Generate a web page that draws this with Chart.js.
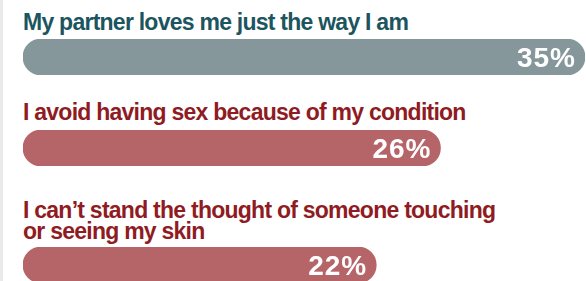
<!DOCTYPE html>
<html>
<head>
<meta charset="utf-8">
<script src="https://cdn.jsdelivr.net/npm/chart.js@4.4.1/dist/chart.umd.min.js"></script>
<style>
  html, body { margin: 0; padding: 0; background: #fff; }
  body { width: 586px; height: 281px; overflow: hidden; box-sizing: border-box; border-left: 3px solid #e9ebeb; }
  #wrap { padding-left: 20px; }
  .label { font-family: "Liberation Sans", Arial, sans-serif; font-weight: 700; font-size: 23px; line-height: 21px; letter-spacing: -0.75px; white-space: pre-line; }
  .bar { position: relative; width: 562px; height: 36px; }
</style>
</head>
<body>
<div id="wrap"></div>
<script>
// ---- data ----
const categories = [
  "My partner loves me just the way I am",
  "I avoid having sex because of my condition",
  "I can\u2019t stand the thought of someone touching\nor seeing my skin"
];
const values = [35, 26, 22];
const valueSuffix = "%";

// ---- styles ----
const labelColors = ["#1c5560", "#8f1b23", "#8f1b23"];
const barColors = ["#86979c", "#b56468", "#b56468"];
const rowTopGaps = [11.5, 26.5, 33.5];
const labelBottomGaps = [6.5, 7.5, 5.5];

const xMax = Math.max(...values);

const valueLabelPlugin = {
  id: 'valueLabels',
  afterDatasetsDraw(chart) {
    const ctx = chart.ctx;
    const ds = chart.data.datasets[0];
    chart.getDatasetMeta(0).data.forEach((bar, j) => {
      ctx.save();
      ctx.font = 'bold 28px "Liberation Sans", Arial, sans-serif';
      if ('letterSpacing' in ctx) ctx.letterSpacing = '1px';
      ctx.fillStyle = '#ffffff';
      ctx.textAlign = 'right';
      ctx.textBaseline = 'middle';
      ctx.fillText(ds.data[j] + valueSuffix, bar.x - 9, bar.y + 2);
      ctx.restore();
    });
  }
};

const wrap = document.getElementById('wrap');
categories.forEach((cat, i) => {
  const lab = document.createElement('div');
  lab.className = 'label';
  lab.textContent = cat;
  lab.style.color = labelColors[i];
  lab.style.paddingTop = rowTopGaps[i] + 'px';
  lab.style.paddingBottom = labelBottomGaps[i] + 'px';
  wrap.appendChild(lab);

  const box = document.createElement('div');
  box.className = 'bar';
  const cv = document.createElement('canvas');
  box.appendChild(cv);
  wrap.appendChild(box);

  new Chart(cv, {
    type: 'bar',
    data: {
      labels: [cat],
      datasets: [{
        data: [values[i]],
        backgroundColor: barColors[i],
        borderRadius: 18,
        borderSkipped: false,
        barPercentage: 1,
        categoryPercentage: 1
      }]
    },
    options: {
      indexAxis: 'y',
      responsive: true,
      maintainAspectRatio: false,
      animation: false,
      layout: { padding: 0 },
      plugins: { legend: { display: false }, tooltip: { enabled: false } },
      scales: {
        x: { display: false, min: 0, max: xMax },
        y: { display: false }
      }
    },
    plugins: [valueLabelPlugin]
  });
});
</script>
</body>
</html>
